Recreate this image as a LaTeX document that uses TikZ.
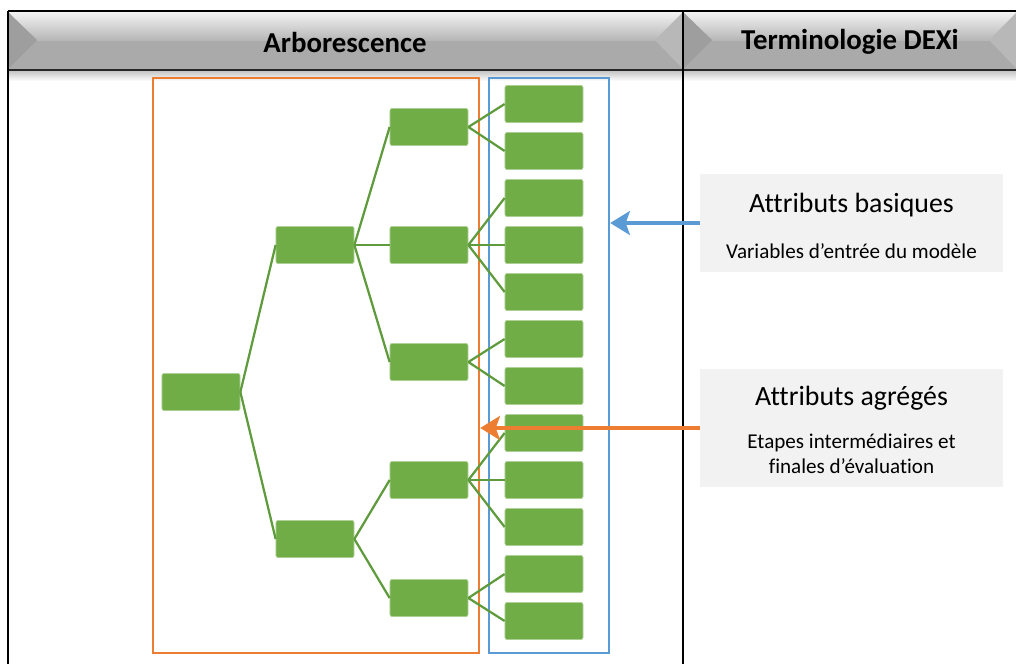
\documentclass[tikz,border=0pt]{standalone}
\usepackage{fontspec}
\setmainfont{Carlito}[Ligatures=CommonOff]
\usetikzlibrary{arrows.meta}
\definecolor{vert}{HTML}{70AD47}
\definecolor{vertlien}{HTML}{5F9B3D}
\definecolor{orangeo}{HTML}{ED7D31}
\definecolor{bleuo}{HTML}{5B9BD5}
\definecolor{grisclair}{HTML}{F2F2F2}
\tikzset{
  boite/.style={fill=vert,draw=vert!55!white,line width=0.5pt,rounded corners=1.5pt,
    minimum width=1.95cm,minimum height=0.93cm,inner sep=0pt},
  lien/.style={draw=vertlien,line width=1.6pt},
  trait/.style={line width=2pt,black},
  titre/.style={font=\fontsize{20.5}{24}\selectfont\bfseries},
  legende/.style={fill=grisclair,minimum width=7.575cm,inner sep=0pt},
  fleche/.style={line width=2.8pt,-{Stealth[length=14pt,width=17pt,inset=3pt]}}
}
\begin{document}
\begin{tikzpicture}[x=0.025cm,y=-0.025cm]
  \useasboundingbox (0,0) rectangle (1016,664);
  % en-tete
  \fill[top color=gray!10,bottom color=gray!58] (8,12) rectangle (1016,41);
  \fill[gray!67] (8,41) rectangle (1016,70);
  \fill[top color=gray!50,bottom color=white] (8,70) rectangle (1016,81);
  \fill[gray!76] (9,13) -- (37,40) -- (9,68) -- cycle;
  \fill[gray!56] (682,13) -- (655,40) -- (682,68) -- cycle;
  \fill[gray!76] (684,13) -- (712,40) -- (684,68) -- cycle;
  \fill[gray!56] (1016,13) -- (989,40) -- (1016,68) -- cycle;
  \node[titre] (h1) at (345,42) {Arborescence};
  \node[titre] (h2) at (850,42) {Terminologie DEXi};
  \draw[trait] (8,11) -- (1016,11);
  \draw[line width=1.5pt,gray!30!black] (8,70) -- (1016,70);
  \draw[trait] (8,11) -- (8,664);
  \draw[trait] (683,11) -- (683,664);
  % zones
  \node[draw=orangeo,line width=1.7pt,minimum width=8.15cm,minimum height=14.375cm] (zoneo) at (316,365.5) {};
  \node[draw=bleuo,line width=1.7pt,minimum width=3cm,minimum height=14.375cm] (zoneb) at (549,365.5) {};
  % arbre
  \node[boite] (r) at (201,392) {};
  \node[boite] (a1) at (315,245) {};
  \node[boite] (a2) at (315,539) {};
  \foreach \n/\y in {1/127,2/245,3/362,4/480,5/598}
    \node[boite] (b\n) at (429,\y) {};
  \foreach \n in {1,...,12}
    \node[boite] (f\n) at (544,{104+47*(\n-1)}) {};
  \foreach \p/\f in {r/a1,r/a2,a1/b1,a1/b2,a1/b3,a2/b4,a2/b5}
    \draw[lien] (\p.east) -- (\f.west);
  \foreach \p/\f in {b1/1,b1/2,b2/3,b2/4,b2/5,b3/6,b3/7,b4/8,b4/9,b4/10,b5/11,b5/12}
    \draw[lien] (\p.east) -- (f\f.west);
  % terminologie
  \node[legende,minimum height=2.45cm] (basic) at (851.5,223) {};
  \node[font=\fontsize{19.8}{24}\selectfont] at (851.5,205) {Attributs basiques};
  \node[font=\fontsize{15}{18}\selectfont] at (851.5,251) {Variables d’entrée du modèle};
  \node[legende,minimum height=2.95cm] (agg) at (851.5,428) {};
  \node[font=\fontsize{19.8}{24}\selectfont] at (851.5,398) {Attributs agrégés};
  \node[font=\fontsize{15}{18}\selectfont,align=center] at (851.5,454) {Etapes intermédiaires et\\finales d’évaluation};
  \draw[fleche,bleuo] (basic.west) -- (basic.west -| zoneb.east);
  \draw[fleche,orangeo] (agg.west) -- (agg.west -| zoneo.east);
\end{tikzpicture}
\end{document}
